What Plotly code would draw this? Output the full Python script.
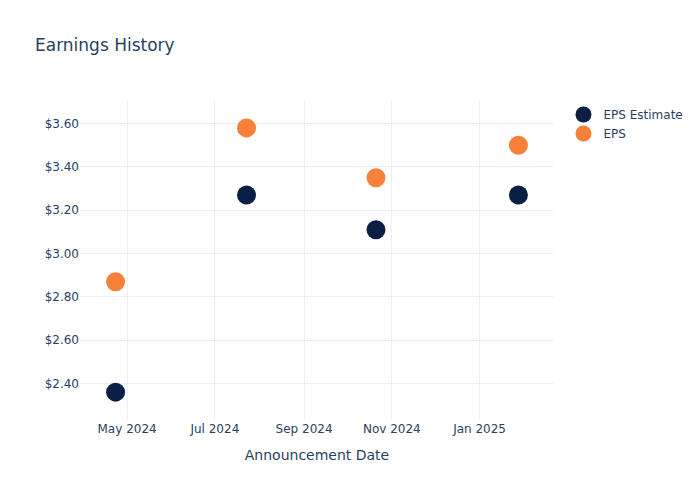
import plotly.graph_objects as go

# Announcement dates and EPS values
dates = ["2024-04-23", "2024-07-23", "2024-10-21", "2025-01-28"]
eps_estimate = [2.36, 3.27, 3.11, 3.27]
eps_actual = [2.87, 3.58, 3.35, 3.50]

fig = go.Figure()

fig.add_trace(go.Scatter(
    x=dates,
    y=eps_estimate,
    mode="markers",
    name="EPS Estimate",
    marker=dict(color="#0b1f45", size=19),
))
fig.add_trace(go.Scatter(
    x=dates,
    y=eps_actual,
    mode="markers",
    name="EPS",
    marker=dict(color="#f7803a", size=19),
))

# margins trimmed by 8px to cancel the page's body margin
fig.update_layout(
    template="plotly_white",
    font=dict(family="DejaVu Sans"),
    title=dict(text="Earnings History", font=dict(size=17),
               x=0.039, y=0.926, yanchor="middle"),
    xaxis_title="Announcement Date",
    yaxis=dict(tickprefix="$", tickformat=".2f"),
    width=692,
    height=500,
    margin=dict(l=72, r=80, t=92, b=88),
)

fig.write_html("out.html")
